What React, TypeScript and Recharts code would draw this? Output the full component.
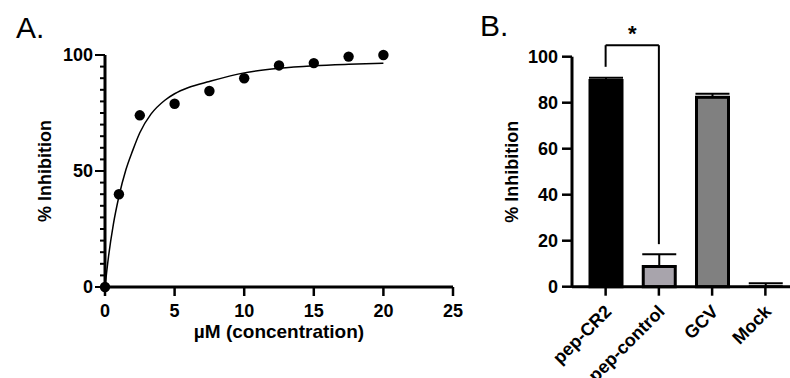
import React from 'react';
import {
  ComposedChart,
  BarChart,
  Bar,
  Cell,
  ErrorBar,
  Line,
  Scatter,
  XAxis,
  YAxis,
  ZAxis,
  ReferenceLine,
} from 'recharts';

const FONT = '"Liberation Sans", Arial, Helvetica, sans-serif';

// A: inhibition vs concentration
const concX = [0, 1, 2.5, 5, 7.5, 10, 12.5, 15, 17.5, 20];
const inhibition = [0, 40, 74, 79, 84.5, 90, 95.5, 96.5, 99.3, 100];
// fitted curve
const fitX = [0, 0.25, 0.6, 1, 1.5, 2, 2.5, 3.3, 4.3, 5, 6, 7.5, 10, 12.5, 15, 17.5, 20];
const fitY = [0, 13, 27, 39, 50.5, 59, 66.5, 74.5, 80.5, 83.3, 86, 88.6, 92.3, 94.3, 95.4, 96, 96.4];
const aXTicks = [0, 5, 10, 15, 20, 25];
const aYTicks = [0, 5, 10, 15, 20, 25, 30, 35, 40, 45, 50, 55, 60, 65, 70, 75, 80, 85, 90, 95, 100];
const aYLabelled = [0, 50, 100];

// B: treatments
const treatments = ['pep-CR2', 'pep-control', 'GCV', 'Mock'];
const meanInhib = [89.6, 8.8, 82.4, 0.2];
const semInhib = [1.3, 5.3, 1.5, 1.3];
const barFills = ['#000000', '#a8a4ac', '#808080', 'none'];
const barStrokes = ['#000', '#000', '#000', 'none'];
const bYTicks = [0, 20, 40, 60, 80, 100];

// significance bracket (pep-CR2 vs pep-control)
const bracketTop = 105;
const bracketLeftEnd = 95.6;
const bracketRightEnd = 18.5;

const pointData = concX.map((x, i) => ({ x, y: inhibition[i] }));
const fitData = fitX.map((x, i) => ({ x, y: fitY[i] }));
const barData = treatments.map((name, i) => ({
  name,
  mean: meanInhib[i],
  err: [0, semInhib[i]],
}));

const bold = { fontFamily: FONT, fontSize: 18, fontWeight: 700, fill: '#000' };

const YTitle = (props: any) => {
  const vb = props.viewBox || {};
  const cx = vb.x + vb.width - 60;
  const cy = vb.y + vb.height / 2;
  return (
    <text x={cx} y={cy} transform={`rotate(-90 ${cx} ${cy})`} textAnchor="middle" dominantBaseline="central" {...bold}>
      {props.text}
    </text>
  );
};

const XTitle = (props: any) => {
  const vb = props.viewBox || {};
  return (
    <text x={vb.x + vb.width / 2} y={vb.y + 51} textAnchor="middle" {...bold} fontSize={19}>
      {props.text}
    </text>
  );
};

// y ticks for A: minor every 5, labels at 0/50/100
const AYTick = (props: any) => {
  const { x, y, payload } = props;
  const axisX = x + 12;
  const major = aYLabelled.includes(payload.value);
  return (
    <g>
      <line x1={axisX - (major ? 10 : 5)} x2={axisX} y1={y} y2={y} stroke="#000" strokeWidth={2} />
      {major && (
        <text x={x} y={y} dy="0.36em" textAnchor="end" {...bold}>
          {payload.value}
        </text>
      )}
    </g>
  );
};

const CatTick = (props: any) => {
  const { x, y, payload } = props;
  return (
    <text transform={`translate(${x + 7},${y + 15}) rotate(-45)`} textAnchor="end" {...bold}>
      {payload.value}
    </text>
  );
};

const PanelA = () => (
  <ComposedChart width={470} height={378} margin={{ top: 55, right: 17, bottom: 0, left: 0 }}>
    <XAxis
      type="number"
      dataKey="x"
      domain={[0, 25]}
      ticks={aXTicks}
      interval={0}
      height={91}
      tickSize={9}
      tickMargin={8}
      axisLine={{ stroke: '#000', strokeWidth: 3 }}
      tickLine={{ stroke: '#000', strokeWidth: 2.5 }}
      tick={bold}
      label={<XTitle text="µM (concentration)" />}
    />
    <YAxis
      type="number"
      domain={[0, 100]}
      ticks={aYTicks}
      interval={0}
      width={105}
      tickSize={10}
      tickMargin={2}
      axisLine={{ stroke: '#000', strokeWidth: 3 }}
      tickLine={false}
      tick={<AYTick />}
      label={<YTitle text="% Inhibition" />}
    />
    <ZAxis range={[85, 85]} />
    <Line
      data={fitData}
      dataKey="y"
      type="monotone"
      stroke="#000"
      strokeWidth={1.5}
      dot={false}
      activeDot={false}
      isAnimationActive={false}
    />
    <Scatter data={pointData} dataKey="y" fill="#000" shape="circle" isAnimationActive={false} />
  </ComposedChart>
);

const PanelB = () => (
  <BarChart width={330} height={378} data={barData} margin={{ top: 56.7, right: 8, bottom: 0, left: 0 }}>
    <XAxis
      dataKey="name"
      interval={0}
      height={91.3}
      padding={{ left: 7, right: 0 }}
      tickSize={9}
      axisLine={{ stroke: '#000', strokeWidth: 3 }}
      tickLine={{ stroke: '#000', strokeWidth: 2.5 }}
      tick={<CatTick />}
    />
    <YAxis
      type="number"
      domain={[0, 100]}
      ticks={bYTicks}
      interval={0}
      width={102}
      tickSize={10}
      tickMargin={4}
      axisLine={{ stroke: '#000', strokeWidth: 3 }}
      tickLine={{ stroke: '#000', strokeWidth: 2.5 }}
      tick={bold}
      label={<YTitle text="% Inhibition" />}
    />
    <Bar dataKey="mean" barSize={32} strokeWidth={3} isAnimationActive={false}>
      {barData.map((d, i) => (
        <Cell key={d.name} fill={barFills[i]} stroke={barStrokes[i]} />
      ))}
      <ErrorBar dataKey="err" direction="y" width={17} stroke="#000" strokeWidth={2} />
    </Bar>
    <ReferenceLine
      segment={[{ x: 'pep-CR2', y: bracketLeftEnd }, { x: 'pep-CR2', y: bracketTop }]}
      stroke="#000"
      strokeWidth={2}
      ifOverflow="visible"
    />
    <ReferenceLine
      segment={[{ x: 'pep-CR2', y: bracketTop }, { x: 'pep-control', y: bracketTop }]}
      stroke="#000"
      strokeWidth={2}
      ifOverflow="visible"
      label={{ value: '*', position: 'top', offset: 4, fontSize: 22, fontWeight: 700, fill: '#000', fontFamily: FONT }}
    />
    <ReferenceLine
      segment={[{ x: 'pep-control', y: bracketRightEnd }, { x: 'pep-control', y: bracketTop }]}
      stroke="#000"
      strokeWidth={2}
      ifOverflow="visible"
    />
  </BarChart>
);

export default function App() {
  return (
    <div
      style={{
        position: 'absolute',
        left: 0,
        top: 0,
        width: 790,
        height: 378,
        overflow: 'hidden',
        background: '#fff',
        fontFamily: FONT,
      }}
    >
      <div style={{ position: 'absolute', left: 0, top: 0 }}>
        <PanelA />
      </div>
      <div style={{ position: 'absolute', left: 470, top: 0 }}>
        <PanelB />
      </div>
      <div style={{ position: 'absolute', left: 16, top: 13, fontSize: 30, lineHeight: '30px' }}>A.</div>
      <div style={{ position: 'absolute', left: 480, top: 11, fontSize: 30, lineHeight: '30px' }}>B.</div>
    </div>
  );
}
